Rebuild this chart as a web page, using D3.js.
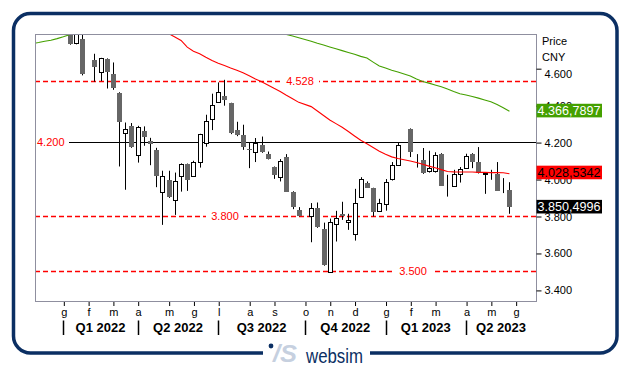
<!DOCTYPE html>
<html><head><meta charset="utf-8">
<script src="https://cdn.jsdelivr.net/npm/d3@7"></script>
<style>
body{margin:0;background:#fff}
svg{display:block}
text{font-family:"Liberation Sans",Arial,sans-serif}
</style>
</head><body>
<svg id="c" width="631" height="368"></svg>
<script>
// ---------- DATA ----------
const weeks = ["2022-01-10","2022-01-17","2022-01-24","2022-02-07","2022-02-14","2022-02-21","2022-02-28","2022-03-07","2022-03-14","2022-03-21","2022-03-28","2022-04-04","2022-04-11","2022-04-18","2022-04-25","2022-05-02","2022-05-09","2022-05-16","2022-05-23","2022-05-30","2022-06-06","2022-06-13","2022-06-20","2022-06-27","2022-07-04","2022-07-11","2022-07-18","2022-07-25","2022-08-01","2022-08-08","2022-08-15","2022-08-22","2022-08-29","2022-09-05","2022-09-12","2022-09-19","2022-09-26","2022-10-10","2022-10-17","2022-10-24","2022-10-31","2022-11-07","2022-11-14","2022-11-21","2022-11-28","2022-12-05","2022-12-12","2022-12-19","2022-12-26","2023-01-02","2023-01-09","2023-01-16","2023-01-30","2023-02-06","2023-02-13","2023-02-20","2023-02-27","2023-03-06","2023-03-13","2023-03-20","2023-03-27","2023-04-03","2023-04-10","2023-04-17","2023-04-24","2023-05-01","2023-05-08","2023-05-15","2023-05-22"];
const open = [4.800,4.734,4.760,4.644,4.582,4.651,4.570,4.467,4.249,4.285,
  4.131,4.261,4.207,4.158,3.932,3.996,3.886,4.014,4.082,4.019,
  4.092,4.195,4.325,4.415,4.451,4.411,4.267,4.240,4.162,4.146,
  4.185,4.137,4.065,4.010,4.117,3.932,3.833,3.802,3.842,3.730,
  3.499,3.756,3.813,3.767,3.702,3.905,3.981,3.951,3.829,3.866,
  4.000,4.077,4.272,4.106,4.102,4.041,4.041,4.137,3.960,3.960,
  4.027,4.059,4.137,4.092,4.030,4.018,4.028,3.942,3.942];
const high = [4.810,4.800,4.790,4.678,4.656,4.653,4.631,4.470,4.306,4.303,
  4.288,4.285,4.223,4.169,4.045,4.045,4.035,4.085,4.084,4.099,
  4.245,4.348,4.462,4.523,4.537,4.413,4.310,4.294,4.198,4.222,
  4.230,4.149,4.068,4.108,4.135,3.934,3.848,3.870,3.873,3.764,
  3.786,3.828,3.877,3.812,3.947,4.010,3.987,3.953,3.893,4.000,
  4.092,4.195,4.274,4.135,4.168,4.153,4.145,4.140,4.023,4.050,
  4.065,4.137,4.140,4.173,4.034,4.050,4.092,4.005,3.983];
const low = [4.727,4.729,4.561,4.527,4.530,4.490,4.483,4.068,3.942,4.169,
  4.089,4.180,4.075,3.956,3.752,3.898,3.806,3.932,3.936,4.015,
  4.062,4.175,4.265,4.412,4.397,4.243,4.232,4.158,4.059,4.092,
  4.142,4.106,4.001,3.987,3.930,3.837,3.798,3.658,3.736,3.531,
  3.497,3.662,3.779,3.725,3.667,3.898,3.952,3.797,3.826,3.829,
  3.992,4.074,4.119,4.062,4.028,4.035,4.035,3.963,3.905,3.958,
  3.981,4.055,4.059,4.030,3.920,3.996,3.936,3.924,3.812];
const close = [4.729,4.790,4.568,4.604,4.655,4.577,4.494,4.307,4.272,4.176,
  4.281,4.230,4.189,4.014,4.014,3.905,3.990,4.081,3.996,4.092,
  4.243,4.315,4.402,4.472,4.429,4.249,4.236,4.171,4.155,4.195,
  4.149,4.108,4.023,4.099,3.932,3.851,3.801,3.842,3.740,3.535,
  3.767,3.788,3.799,3.779,3.870,4.000,3.954,3.824,3.870,3.983,
  4.075,4.185,4.144,4.108,4.035,4.062,4.131,3.965,3.963,4.028,
  4.054,4.126,4.090,4.032,4.032,4.019,3.938,3.943,3.8504996];

// red moving average (last weeks of the candle dates)
const maRed = [4.845,4.823,4.804,4.787,4.769,4.750,4.714,4.692,4.678,4.659,
  4.641,4.627,4.614,4.601,4.589,4.575,4.559,4.542,4.526,4.509,
  4.491,4.474,4.454,4.435,4.415,4.392,4.368,4.344,4.320,4.300,
  4.280,4.257,4.233,4.210,4.191,4.171,4.151,4.134,4.120,4.111,
  4.098,4.090,4.080,4.070,4.061,4.051,4.041,4.039,4.038,4.038,
  4.038,4.036,4.036,4.035,4.035,4.034,4.0285342];
// green moving average: starts before the first candle
const maGreenLeadWeeks = ["2021-11-29","2021-12-06","2021-12-13","2021-12-20","2021-12-27","2022-01-03"];
const maGreen = [4.733,4.739,4.746,4.751,4.760,4.770,
  4.781,4.792,4.801,
  4.812,4.818,4.824,4.829,4.833,4.836,4.838,4.839,4.840,4.840,
  4.839,4.838,4.836,4.834,4.832,4.829,4.826,4.823,4.820,4.817,
  4.814,4.811,4.808,4.805,4.802,4.800,4.798,4.796,4.794,4.792,4.790,
  4.782,4.774,4.765,4.746,
  4.735,4.725,4.715,4.705,4.695,4.685,4.675,4.664,4.655,4.633,4.612,4.601,4.589,4.579,
  4.558,4.541,4.528,4.519,4.509,4.499,4.487,4.474,4.462,4.455,4.447,4.438,4.428,4.418,4.403,4.386,4.3667897];

const dashedLevels = [4.528, 3.800, 3.500];
const solidLevel = 4.200;
const priceTicks = [3.4, 3.6, 3.8, 4.0, 4.2, 4.4, 4.6];
const monthTickWeeks = ["2022-01-03","2022-01-31","2022-02-28","2022-03-28","2022-05-02","2022-05-30","2022-06-27","2022-08-01","2022-08-29","2022-10-03","2022-10-31","2022-11-28","2023-01-02","2023-01-30","2023-02-27","2023-04-03","2023-05-01","2023-05-29"];
const monthLabels = ["g","f","m","a","m","g","l","a","s","o","n","d","g","f","m","a","m","g"];
const quarterStarts = ["2022-01-03","2022-03-28","2022-06-27","2022-10-03","2023-01-02","2023-04-03"];
const quarterLabels = ["Q1 2022","Q2 2022","Q3 2022","Q4 2022","Q1 2023","Q2 2023"];
const boxLabels = ["4.366,7897","4.028,5342","3.850,4996"];

// ---------- CHART ----------
const parse = d3.timeParse("%Y-%m-%d");
const svg = d3.select("#c");
const P = {l:35, t:34, r:536, b:301};
const x = d3.scaleTime().domain([new Date(2021,11,2), new Date(2023,5,21)]).range([P.l, P.r]);
const y = d3.scaleLinear().domain([3.34, 4.785]).range([P.b, P.t]);
const navy = "#0b2f63";
const RED = "#ff0000", GREEN = "#44a000";

// outer frame
svg.append("rect").attr("x",13.5).attr("y",13.5).attr("width",603.5).attr("height",339.5)
  .attr("rx",17).attr("fill","none").attr("stroke",navy).attr("stroke-width",3.5);
svg.append("rect").attr("x",263).attr("y",348).attr("width",107).attr("height",10).attr("fill","#fff");
// logo
svg.append("circle").attr("cx",271).attr("cy",346).attr("r",2.4).attr("fill",navy);
svg.append("text").attr("x",273).attr("y",362).attr("font-size",24).attr("font-weight","bold")
  .attr("font-style","italic").attr("fill","#c6d0df").attr("textLength",24).attr("lengthAdjust","spacingAndGlyphs").text("/S");
svg.append("text").attr("x",306).attr("y",362.5).attr("font-size",21).attr("fill",navy)
  .attr("textLength",57).attr("lengthAdjust","spacingAndGlyphs").text("websim");

// clip
svg.append("clipPath").attr("id","clip").append("rect")
  .attr("x",P.l+1).attr("y",P.t+1).attr("width",P.r-P.l-1).attr("height",P.b-P.t-1);
const g = svg.append("g").attr("clip-path","url(#clip)");

// level lines
const fmt3 = d3.format(".3f");
dashedLevels.forEach(v=>{
  const yy = Math.round(y(v))+0.5;
  g.append("line").attr("x1",P.l).attr("x2",P.r).attr("y1",yy).attr("y2",yy)
    .attr("stroke",RED).attr("stroke-width",1.3).attr("stroke-dasharray","5,3");
});
const sy = Math.round(y(solidLevel))+0.5;
g.append("line").attr("x1",69).attr("x2",P.r).attr("y1",sy).attr("y2",sy).attr("stroke","#000").attr("stroke-width",1);

// candles
const candles = weeks.map((w,i)=>({date:parse(w),o:open[i],h:high[i],l:low[i],c:close[i]}));
const cg = g.append("g");
candles.forEach(d=>{
  const cx = Math.round(x(d.date));
  cg.append("line").attr("x1",cx+0.5).attr("x2",cx+0.5).attr("y1",y(d.h)).attr("y2",y(d.l))
    .attr("stroke","#000").attr("stroke-width",1);
  const top = Math.round(y(Math.max(d.o,d.c))), bot = Math.round(y(Math.min(d.o,d.c)));
  if (d.c >= d.o) {
    cg.append("rect").attr("x",cx-1.5).attr("y",top+0.5).attr("width",4).attr("height",Math.max(0,bot-top))
      .attr("fill","#fff").attr("stroke","#000").attr("stroke-width",1);
  } else {
    cg.append("rect").attr("x",cx-2).attr("y",top).attr("width",5).attr("height",Math.max(1,bot-top))
      .attr("fill","#666666");
  }
});

// moving averages
const line = d3.line().x(d=>x(d.date)).y(d=>y(d.v));
const redData = maRed.map((v,i)=>({date:parse(weeks[weeks.length-maRed.length+i]), v}));
const greenDates = maGreenLeadWeeks.concat(weeks);
const greenData = maGreen.map((v,i)=>({date:parse(greenDates[i]), v}));
g.append("path").datum(greenData).attr("d",line).attr("fill","none").attr("stroke",GREEN).attr("stroke-width",1.1);
g.append("path").datum(redData).attr("d",line).attr("fill","none").attr("stroke",RED).attr("stroke-width",1.1);

// level labels
const labelX = [300, 225, 413];
dashedLevels.forEach((v,i)=>{
  const yy = y(v);
  g.append("rect").attr("x",labelX[i]-19).attr("y",yy-6).attr("width",38).attr("height",12).attr("fill","#fff");
  g.append("text").attr("x",labelX[i]).attr("y",yy+4).attr("text-anchor","middle").attr("font-size",11)
    .attr("fill",RED).text(fmt3(v));
});
svg.append("text").attr("x",37).attr("y",y(solidLevel)+4).attr("font-size",11).attr("fill",RED).text(fmt3(solidLevel));

// plot border
svg.append("rect").attr("x",P.l+0.5).attr("y",P.t+0.5).attr("width",P.r-P.l).attr("height",P.b-P.t)
  .attr("fill","none").attr("stroke","#8f8f9f").attr("stroke-width",1);

// right axis
const ya = svg.append("g").attr("transform",`translate(${P.r+0.5},0.5)`)
  .call(d3.axisRight(y).tickValues(priceTicks).tickSize(5).tickPadding(3).tickFormat(fmt3));
ya.select(".domain").remove();
ya.selectAll("text").attr("font-size",11).attr("font-family","Liberation Sans, Arial, sans-serif").attr("fill","#000")
  .attr("dy",d=>d===4.6?"0.78em":"0.32em");
ya.selectAll("line").attr("stroke","#000");
svg.append("text").attr("x",542).attr("y",45).attr("font-size",11).text("Price");
svg.append("text").attr("x",542).attr("y",61).attr("font-size",11).text("CNY");

// value boxes
const lastVals = [maGreen[maGreen.length-1], maRed[maRed.length-1], close[close.length-1]];
const boxFill = [GREEN, RED, "#000"], boxText = ["#fff","#000","#fff"], boxOff=[-0.7,-1.3,0];
lastVals.forEach((v,i)=>{
  const cy = y(v)+boxOff[i];
  svg.append("rect").attr("x",536.5).attr("y",cy-6.8).attr("width",65.5).attr("height",13.6).attr("fill",boxFill[i]);
  svg.append("text").attr("x",537.5).attr("y",cy+4.3).attr("font-size",12).attr("fill",boxText[i])
    .attr("textLength",63).attr("lengthAdjust","spacingAndGlyphs").text(boxLabels[i]);
});

// bottom axis (months)
const xa = svg.append("g").attr("transform",`translate(0.5,${P.b+1})`)
  .call(d3.axisBottom(x).tickValues(monthTickWeeks.map(parse)).tickSize(4).tickPadding(2)
    .tickFormat((d,i)=>monthLabels[i]));
xa.select(".domain").remove();
xa.selectAll("line").attr("stroke","#000");
xa.selectAll("text").attr("font-size",11).attr("font-family","Liberation Sans, Arial, sans-serif").attr("fill","#000");

// quarters
const qx = quarterStarts.map(s=>x(parse(s)));
qx.forEach(px=>{
  const xx = Math.round(px)+0.5;
  svg.append("line").attr("x1",xx).attr("x2",xx).attr("y1",320.5).attr("y2",335).attr("stroke","#000").attr("stroke-width",1.5);
});
quarterLabels.forEach((t,i)=>{
  const a = qx[i], b = i<qx.length-1 ? qx[i+1] : P.r;
  svg.append("text").attr("x",(a+b)/2).attr("y",331.5).attr("text-anchor","middle")
    .attr("font-size",13).attr("font-weight","bold").attr("fill","#000").text(t);
});
</script>
</body></html>
